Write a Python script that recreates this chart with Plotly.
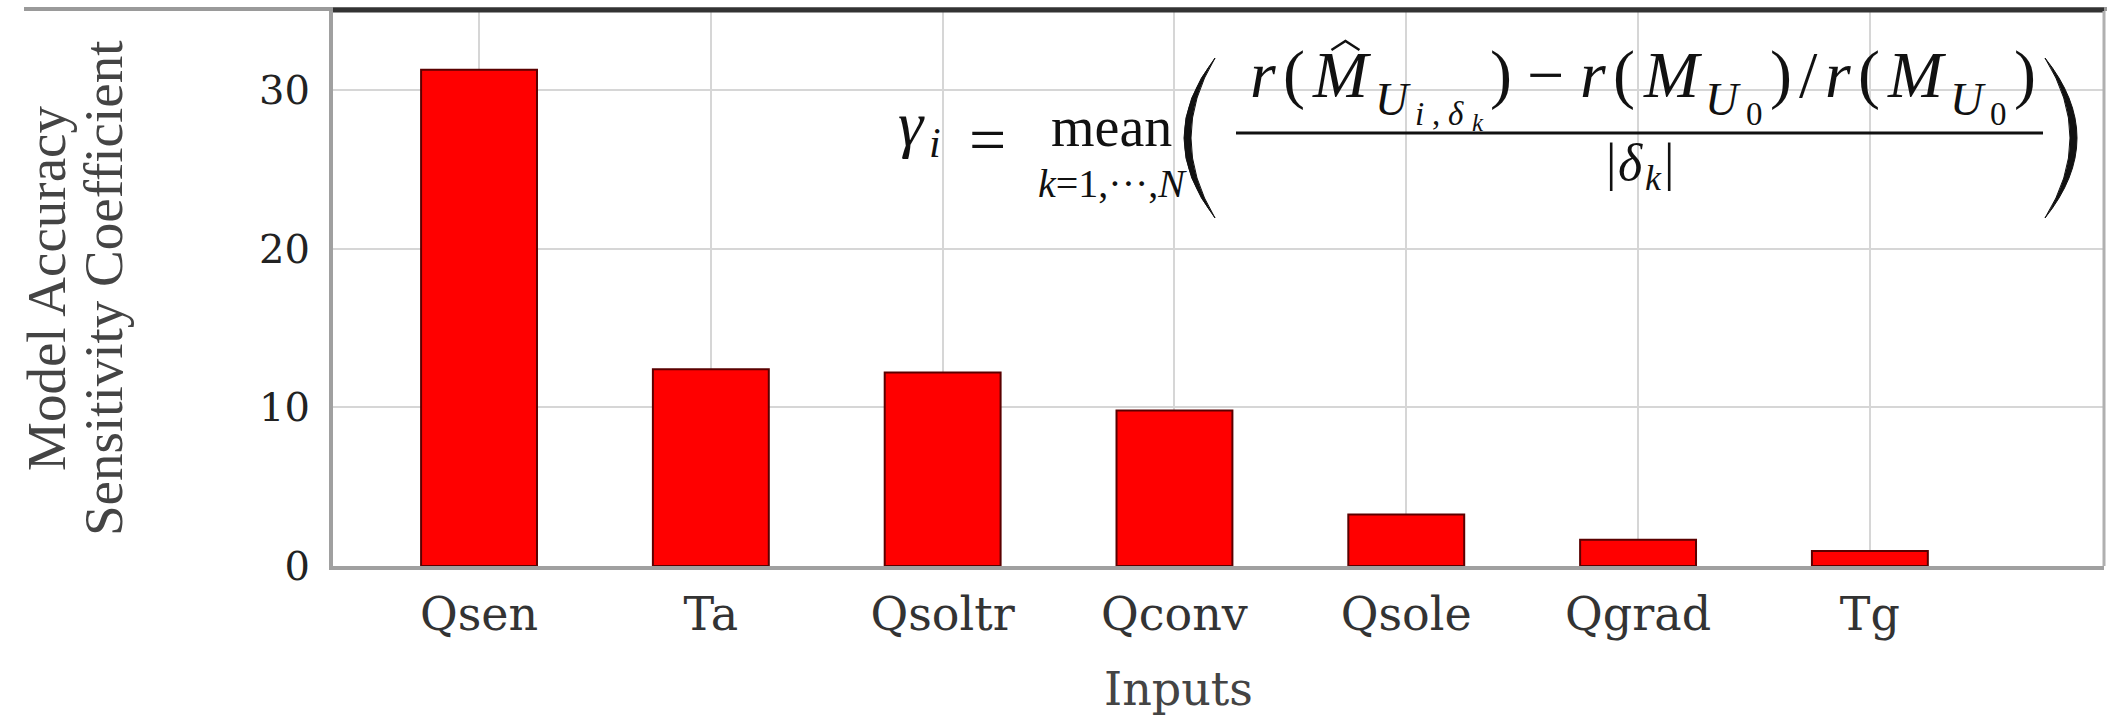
import plotly.graph_objects as go

# Sensitivity of model accuracy to each input
inputs = ["Qsen", "Ta", "Qsoltr", "Qconv", "Qsole", "Qgrad", "Tg"]
sensitivity = [31.3, 12.4, 12.2, 9.8, 3.25, 1.65, 0.95]
y_ticks = [0, 10, 20, 30]

W, H = 2107, 717
L, R, T, B = 333, 3, 11, 151
PW, PH = W - L - R, H - T - B
SERIF = "Liberation Serif"
WIDE = "DejaVu Serif"
DESC = 0.216  # Liberation Serif descent (em)


def px(x):
    return (x - L) / PW


def py(y):
    return 1 - (y - T) / PH


fig = go.Figure()
fig.add_trace(go.Bar(
    x=list(range(len(inputs))),
    y=sensitivity,
    width=0.5,
    marker=dict(color="#ff0000", line=dict(color="#5a0000", width=2)),
))

fig.update_layout(
    width=W, height=H,
    margin=dict(l=L, r=R, t=T, b=B),
    paper_bgcolor="white", plot_bgcolor="white",
    showlegend=False,
    font=dict(family=SERIF, color="#222"),
)
fig.update_xaxes(
    range=[-0.63, 7.01],
    tickvals=list(range(len(inputs))), ticktext=inputs,
    showgrid=True, gridcolor="#d6d6d6", gridwidth=2,
    showline=True, linecolor="#a0a0a0", linewidth=4,
    ticks="", ticklabelstandoff=5,
    tickfont=dict(size=46, family=WIDE, color="#333"),
    zeroline=False,
)
fig.update_yaxes(
    range=[0, 35],
    tickvals=y_ticks,
    showgrid=True, gridcolor="#d6d6d6", gridwidth=2,
    showline=True, linecolor="#a0a0a0", linewidth=4,
    ticks="", ticklabelstandoff=11,
    tickfont=dict(size=40, family=WIDE, color="#222"),
    zeroline=False,
)

shapes = []
# frame: top edge and right edge
shapes.append(dict(type="line", xref="paper", yref="paper", x0=px(24), x1=px(W),
                   y0=py(9), y1=py(9), line=dict(color="#9a9a9a", width=4)))
shapes.append(dict(type="line", xref="paper", yref="paper", x0=0, x1=1,
                   y0=py(10), y1=py(10), line=dict(color="#333", width=5)))
shapes.append(dict(type="line", xref="paper", yref="paper", x0=1, x1=1,
                   y0=0, y1=1, line=dict(color="#b0b0b0", width=3)))
# white panel behind the formula
shapes.append(dict(type="rect", xref="paper", yref="paper", layer="between",
                   x0=px(887), x1=px(2090), y0=py(235), y1=py(23),
                   fillcolor="white", line=dict(width=0)))
# fraction bar
shapes.append(dict(type="line", xref="paper", yref="paper",
                   x0=px(1236), x1=px(2043), y0=py(133), y1=py(133),
                   line=dict(color="#111", width=3)))


def paren(x_end, x_bulge_out, x_bulge_in, y_top, y_bot):
    cx_out = 2 * x_bulge_out - x_end
    cx_in = 2 * x_bulge_in - x_end
    ym = (y_top + y_bot) / 2
    return (f"M {px(x_end)},{py(y_top)} "
            f"Q {px(cx_out)},{py(ym)} {px(x_end)},{py(y_bot)} "
            f"Q {px(cx_in)},{py(ym)} {px(x_end)},{py(y_top)} Z")


shapes.append(dict(type="path", xref="paper", yref="paper",
                   path=paren(1215, 1184, 1191, 58, 218),
                   fillcolor="#111", line=dict(color="#111", width=1)))
shapes.append(dict(type="path", xref="paper", yref="paper",
                   path=paren(2045, 2077, 2070, 58, 218),
                   fillcolor="#111", line=dict(color="#111", width=1)))


def put(text, x, base, size, xanchor="left", color="#111", family=SERIF):
    """Place a text run so that its baseline sits at pixel row `base`."""
    fig.add_annotation(text=text, x=px(x), y=py(base + DESC * size),
                       xref="paper", yref="paper", showarrow=False,
                       xanchor=xanchor, yanchor="bottom",
                       borderpad=0, borderwidth=0,
                       font=dict(family=family, size=size, color=color))


# left-hand side of the formula
put("<i>γ</i>", 898, 145, 64)
put("<i>i</i>", 929, 157, 42)
put("=", 987, 162, 66, xanchor="center")
put("mean", 1111, 146, 56, xanchor="center")
put("<i>k</i>=1,···,<i>N</i>", 1112, 197, 40, xanchor="center")

# numerator, laid out run by run between the ends of the fraction bar
F, S1, S2, S3 = 66, 46, 33, 25
BASE = 97
IT, UP = True, False
block = [("r", F, 0, .389, IT), ("(", F, 0, .333, UP), ("M", F, 0, .833, IT),
         ("U", S1, 18, .722, IT), ("0", S2, 28, .5, UP), (")", F, 0, .333, UP)]
runs = ([("r", F, 0, .389, IT), ("(", F, 0, .333, UP), ("M", F, 0, .833, IT),
         ("U", S1, 18, .722, IT), ("i", S2, 28, .278, IT), (",", S2, 28, .25, UP),
         ("δ", S2, 28, .5, IT), ("k", S3, 34, .444, IT), (")", F, 0, .333, UP),
         ("−", F, 0, .584, UP)]
        + block + [("/", F, 0, .278, UP)] + block)
x_start, x_end = 1250, 2036
widths = [w * s for _, s, _, w, _ in runs]
gap_units = [1] * (len(runs) - 1)
minus = [r[0] for r in runs].index("−")
gap_units[minus - 1] = 2
gap_units[minus] = 2
gap = (x_end - x_start - sum(widths)) / sum(gap_units)
x = x_start
hat_x = None
for i, (txt, size, dy, w, italic) in enumerate(runs):
    put(f"<i>{txt}</i>" if italic else txt, x, BASE + dy, size)
    if hat_x is None and txt == "M":
        hat_x = x
    x += widths[i] + (gap * gap_units[i] if i < len(gap_units) else 0)

# circumflex over the first M
shapes.append(dict(type="path", xref="paper", yref="paper",
                   path=(f"M {px(hat_x + 19)},{py(50)} L {px(hat_x + 33)},{py(41)} "
                         f"L {px(hat_x + 47)},{py(50)}"),
                   line=dict(color="#111", width=2.5)))

# denominator
put("|", 1606, 180, 52)
put("<i>δ</i>", 1618, 180, 52)
put("<i>k</i>", 1645, 190, 36)
put("|", 1664, 180, 52)

fig.update_layout(shapes=shapes)

# axis titles
put("Inputs", 1178, 706, 46, xanchor="center", color="#444", family=WIDE)
for line, cx in (("Model Accuracy", 46), ("Sensitivity Coefficient", 103)):
    fig.add_annotation(text=line, x=px(cx), y=py(289), xref="paper", yref="paper",
                       showarrow=False, textangle=-90, xanchor="center", yanchor="middle",
                       font=dict(family=SERIF, size=55, color="#444"))

fig.write_html("out.html")
